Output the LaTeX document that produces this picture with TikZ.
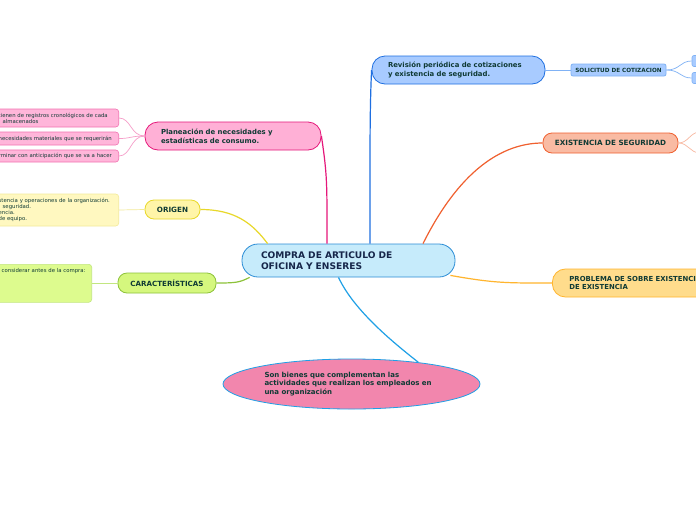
\documentclass[tikz,border=0pt]{standalone}
\usepackage{fontspec}
\setmainfont{DejaVu Sans}
\usetikzlibrary{positioning,calc,shapes.geometric}
\definecolor{txt}{HTML}{0F3A34}
\definecolor{ctrT}{HTML}{16264A}
\definecolor{ctrF}{HTML}{C6EBFB}
\definecolor{ctrD}{HTML}{2B8DD6}
\definecolor{plaF}{HTML}{FFB0D6}
\definecolor{plaD}{HTML}{E5177A}
\definecolor{plaL}{HTML}{FFB6DA}
\definecolor{plaLD}{HTML}{F274B2}
\definecolor{revF}{HTML}{A8CBFF}
\definecolor{revD}{HTML}{1F6FE0}
\definecolor{revL}{HTML}{80B2F5}
\definecolor{exiF}{HTML}{F9BBA3}
\definecolor{exiD}{HTML}{F0602F}
\definecolor{exiL}{HTML}{F8B8A0}
\definecolor{proF}{HTML}{FFDC8C}
\definecolor{proD}{HTML}{FFB52E}
\definecolor{oriF}{HTML}{FFF5A8}
\definecolor{oriD}{HTML}{E8D82A}
\definecolor{oriL}{HTML}{FFF8C0}
\definecolor{oriLD}{HTML}{F3EA9A}
\definecolor{carF}{HTML}{D5F77E}
\definecolor{carD}{HTML}{8DC23A}
\definecolor{carL}{HTML}{DDFB8E}
\definecolor{carLD}{HTML}{C2E680}
\definecolor{eliF}{HTML}{F286AD}
\definecolor{eliD}{HTML}{1FA0E6}

\begin{document}
\begin{tikzpicture}[x=1pt,y=-1pt,
 every node/.style={text=txt},
 topic/.style={draw,line width=0.8pt,rounded corners=10pt,align=left,font=\bfseries\fontsize{6.9}{9}\selectfont},
 leaf/.style={draw,line width=0.6pt,rounded corners=3pt,align=left,font=\fontsize{5.35}{6.2}\selectfont,inner xsep=5pt,text width=115pt},
 br/.style={line width=1.2pt},
 sub/.style={line width=0.7pt}]
\useasboundingbox[fill=white] (0,0) rectangle (696,520);
\clip (0,0) rectangle (696,520);
% main topics
\node[topic,fill=ctrF,draw=ctrD,text=ctrT,rounded corners=16pt,minimum height=33pt,text width=175pt,inner xsep=19pt,font=\bfseries\fontsize{9.1}{11}\selectfont] (ctr) at (348.5,260.5) {COMPRA DE ARTICULO DE\\OFICINA Y ENSERES};
\node[topic,fill=plaF,draw=plaD,rounded corners=13pt,minimum height=28pt,text width=144pt,inner xsep=16pt] (pla) at (233,136) {Planeación de necesidades y\\estadísticas de consumo.};
\node[topic,fill=revF,draw=revD,rounded corners=13pt,minimum height=28pt,text width=141pt,inner xsep=16pt] (rev) at (458.5,70) {Revisión periódica de cotizaciones\\y existencia de seguridad.};
\node[topic,fill=exiF,draw=exiD,rounded corners=9pt,minimum width=135pt,minimum height=20pt,align=center,font=\bfseries\fontsize{7.2}{9}\selectfont] (exi) at (610.5,143) {EXISTENCIA DE SEGURIDAD};
\node[topic,fill=proF,draw=proD,rounded corners=13pt,minimum height=28pt,text width=160pt,inner xsep=17pt,anchor=west,font=\bfseries\fontsize{6.9}{8.5}\selectfont] (pro) at (552,283) {PROBLEMA DE SOBRE EXISTENCIA\\DE EXISTENCIA};
\node[topic,fill=oriF,draw=oriD,rounded corners=9pt,minimum width=55pt,minimum height=19pt,align=center,font=\bfseries\fontsize{7.2}{8}\selectfont] (ori) at (172.5,209.5) {ORIGEN};
\node[topic,fill=carF,draw=carD,rounded corners=9pt,minimum width=98pt,minimum height=20pt,align=center,font=\bfseries\fontsize{7.1}{8}\selectfont] (car) at (167,283) {CARACTERÍSTICAS};
\node[ellipse,draw=eliD,line width=0.8pt,fill=eliF,minimum width=257pt,minimum height=50pt,align=left,text width=174pt,inner sep=0pt,font=\bfseries\fontsize{7}{8.6}\selectfont] (eli) at (351.5,384) {Son bienes que complementan las\\actividades que realizan los empleados en\\una organización};
% sub topics
\node[topic,fill=revF,draw=revL,rounded corners=2pt,minimum width=95pt,minimum height=12pt,inner ysep=1pt,align=center,font=\bfseries\fontsize{5.7}{6}\selectfont] (sol) at (618.5,70) {SOLICITUD DE COTIZACION};
\node[draw=revL,fill=revF,line width=0.6pt,rounded corners=2pt,minimum width=36pt,minimum height=11pt] (sol1) at (710,61) {};
\node[draw=revL,fill=revF,line width=0.6pt,rounded corners=2pt,minimum width=36pt,minimum height=11pt] (sol2) at (710,78) {};
\coordinate (exi1) at (700,132);
\coordinate (exi2) at (700,153);
\node[leaf,fill=plaL,draw=plaLD,minimum height=18pt,anchor=east] (pla1) at (119,118) {tienen de registros cronológicos de cada\\\hspace*{4pt}almacenados};
\node[leaf,fill=plaL,draw=plaLD,minimum height=13pt,anchor=east] (pla2) at (119,138.5) {necesidades materiales que se requerirán};
\node[leaf,fill=plaL,draw=plaLD,minimum height=12pt,anchor=east] (pla3) at (119,156) {rminar con anticipación que se va a hacer};
\node[leaf,fill=oriL,draw=oriLD,minimum height=32pt,anchor=east] (ori1) at (119,210) {stencia y operaciones de la organización.\\\hspace*{4pt}seguridad.\\encia.\\de equipo.};
\node[leaf,fill=carL,draw=carLD,text width=87pt,text height=4pt,text depth=26pt,inner ysep=4pt,anchor=north east] (car1) at (92,264) {\hspace*{2pt}considerar antes de la compra:};
% branches
\draw[br,plaD] (pla.east) .. controls +(6,40) and +(0,-60) .. ($(ctr.north)+(-21.5,0)$);
\draw[br,revD] (rev.west) .. controls +(-2,40) and +(0,-80) .. ($(ctr.north)+(21.5,0)$);
\draw[br,exiD] ($(ctr.north)+(74.5,0)$) .. controls +(40,-80) and +(-35,0) .. (exi.west);
\draw[br,proD] ($(ctr.south east)+(-5,-2)$) .. controls +(45,8) and +(-45,0) .. (pro.west);
\draw[br,eliD] ($(ctr.south)+(-10,0)$) .. controls +(15,32) and +(-28,-22) .. (eli.18);
\draw[br,oriD] (ori.east) .. controls +(35,0) and +(-15,-20) .. ($(ctr.north west)+(26,0)$);
\draw[br,carD] ($(ctr.south west)+(8,0)$) .. controls +(-10,5) and +(20,0) .. (car.east);
% sub branches
\foreach \k in {pla1,pla2,pla3}
  \draw[sub,plaLD!70] (pla.west) .. controls +(-14,0) and +(12,0) .. (\k.east);
\draw[sub,oriLD] (ori.west) -- (ori1.east);
\draw[sub,carLD] (car.west) -- (car1.east |- car.west);
\draw[sub,revL] (rev.east) -- (sol.west);
\foreach \k in {sol1,sol2}
  \draw[sub,revL] (sol.east) .. controls +(14,0) and +(-12,0) .. (\k.west);
\foreach \k in {exi1,exi2}
  \draw[sub,exiL] (exi.east) .. controls +(10,0) and +(-10,0) .. (\k);
\end{tikzpicture}
\end{document}
